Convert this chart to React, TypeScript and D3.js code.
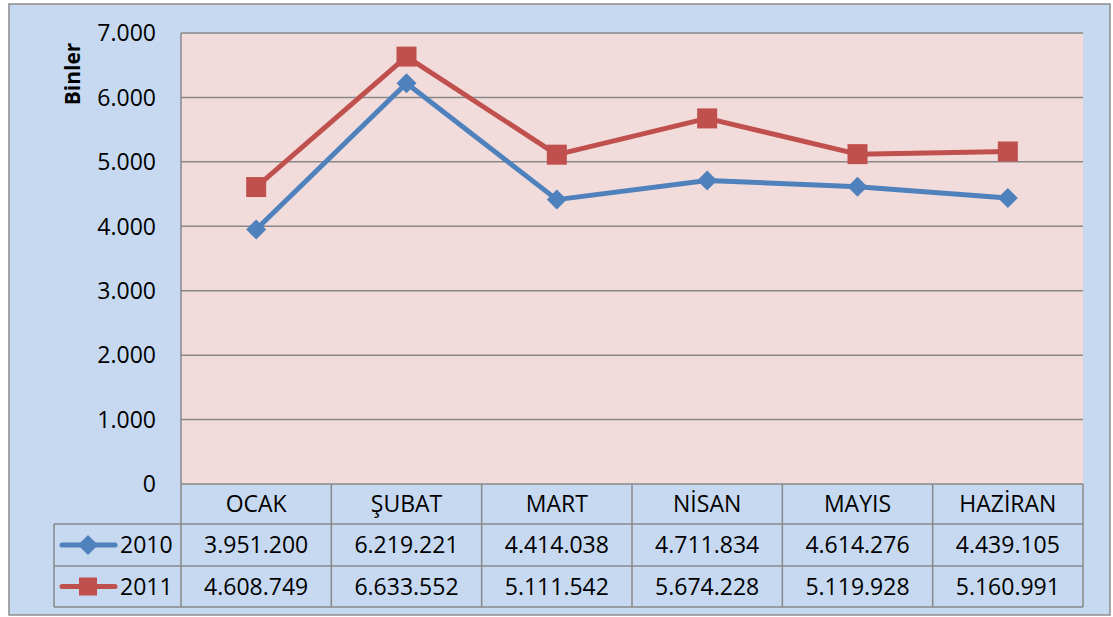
import React from "react";
import * as d3 from "d3";

const months = ["OCAK", "ŞUBAT", "MART", "NİSAN", "MAYIS", "HAZİRAN"];
const series2010 = [3951.2, 6219.221, 4414.038, 4711.834, 4614.276, 4439.105];
const series2011 = [4608.749, 6633.552, 5111.542, 5674.228, 5119.928, 5160.991];
const labels2010 = ["3.951.200", "6.219.221", "4.414.038", "4.711.834", "4.614.276", "4.439.105"];
const labels2011 = ["4.608.749", "6.633.552", "5.111.542", "5.674.228", "5.119.928", "5.160.991"];
const yTicks = [0, 1000, 2000, 3000, 4000, 5000, 6000, 7000];
const yTickLabels = ["0", "1.000", "2.000", "3.000", "4.000", "5.000", "6.000", "7.000"];

const W = 1113, H = 617;
const plotL = 181, plotR = 1083, plotT = 33, plotB = 484;
const row0 = 484, row1 = 524, row2 = 566, row3 = 607;
const legendL = 54;
const BLUE = "#4F81BD", RED = "#C0504D", GRID = "#888888";
const FONT = "'Open Sans', sans-serif";

export default function App() {
  const x = d3.scaleBand<string>().domain(months).range([plotL, plotR]);
  const y = d3.scaleLinear().domain([0, 7000]).range([plotB, plotT]);
  const line = d3.line<number>().x((_, i) => (x(months[i]) as number) + x.bandwidth() / 2).y((v) => y(v));
  const cx = (i: number) => (x(months[i]) as number) + x.bandwidth() / 2;
  const bounds = months.map((m) => x(m) as number).concat([plotR]);

  const diamond = (px: number, py: number, r: number, key: any) => (
    <path key={key} d={`M${px},${py - r}L${px + r},${py}L${px},${py + r}L${px - r},${py}Z`} fill={BLUE} />
  );
  const square = (px: number, py: number, s: number, key: any) => (
    <rect key={key} x={px - s / 2} y={py - s / 2} width={s} height={s} fill={RED} />
  );

  return (
    <svg width={W} height={H} style={{ position: "absolute", left: 0, top: 0 }} fontFamily={FONT}>
      <rect x={9} y={4} width={1101} height={611} fill="#C6D9F1" stroke="#8C8C8C" strokeWidth={1.5} />
      <rect x={plotL} y={plotT} width={plotR - plotL} height={plotB - plotT} fill="#F2DCDB" />
      {yTicks.map((t, i) => (
        <g key={t}>
          {t > 0 && <line x1={plotL} x2={plotR} y1={y(t)} y2={y(t)} stroke={GRID} strokeWidth={1.5} />}
          <text x={156} y={y(t)} dy="0.36em" textAnchor="end" fontSize={23} fill="#000">{yTickLabels[i]}</text>
        </g>
      ))}
      <line x1={plotL} x2={plotL} y1={plotT} y2={plotB} stroke={GRID} strokeWidth={1.5} />
      <text transform="translate(72,74) rotate(-90)" textAnchor="middle" dy="0.36em" fontSize={21} fontWeight="bold">Binler</text>

      {/* table */}
      <g stroke={GRID} strokeWidth={1.5} fill="none">
        <line x1={plotL} x2={plotR} y1={row0} y2={row0} />
        <line x1={legendL} x2={plotR} y1={row1} y2={row1} />
        <line x1={legendL} x2={plotR} y1={row2} y2={row2} />
        <line x1={legendL} x2={plotR} y1={row3} y2={row3} />
        <line x1={legendL} x2={legendL} y1={row1} y2={row3} />
        {bounds.map((b, i) => <line key={i} x1={b} x2={b} y1={row0} y2={row3} />)}
      </g>
      {months.map((m, i) => (
        <g key={m} fontSize={23}>
          <text x={cx(i)} y={(row0 + row1) / 2} dy="0.36em" textAnchor="middle">{m}</text>
          <text x={cx(i)} y={(row1 + row2) / 2} dy="0.36em" textAnchor="middle">{labels2010[i]}</text>
          <text x={cx(i)} y={(row2 + row3) / 2} dy="0.36em" textAnchor="middle">{labels2011[i]}</text>
        </g>
      ))}
      <line x1={62} x2={115} y1={(row1 + row2) / 2} y2={(row1 + row2) / 2} stroke={BLUE} strokeWidth={5} strokeLinecap="round" />
      {diamond(88, (row1 + row2) / 2, 10, "ld")}
      <text x={120} y={(row1 + row2) / 2} dy="0.36em" fontSize={23}>2010</text>
      <line x1={62} x2={115} y1={(row2 + row3) / 2} y2={(row2 + row3) / 2} stroke={RED} strokeWidth={5} strokeLinecap="round" />
      {square(88, (row2 + row3) / 2, 18, "ls")}
      <text x={120} y={(row2 + row3) / 2} dy="0.36em" fontSize={23}>2011</text>

      {/* lines */}
      <path d={line(series2010) as string} fill="none" stroke={BLUE} strokeWidth={5} strokeLinejoin="round" />
      <path d={line(series2011) as string} fill="none" stroke={RED} strokeWidth={5} strokeLinejoin="round" />
      {series2010.map((v, i) => diamond(cx(i), y(v), 10, "d" + i))}
      {series2011.map((v, i) => square(cx(i), y(v), 20, "s" + i))}
    </svg>
  );
}
